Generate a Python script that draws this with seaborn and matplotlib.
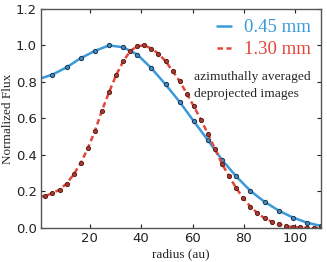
import numpy as np
import pandas as pd
import seaborn as sns
import matplotlib.pyplot as plt
from matplotlib.lines import Line2D

# radial profiles
r_045 = [0, 5.5, 11, 16.5, 22, 27.5, 33, 38.5, 44, 49.5, 55, 60.5, 66, 71.5,
         77, 82.5, 88, 93.5, 99, 104.5, 110]
f_045 = [0.815, 0.84, 0.88, 0.93, 0.97, 1.0, 0.99, 0.95, 0.875, 0.786, 0.69,
         0.584, 0.48, 0.372, 0.282, 0.203, 0.143, 0.095, 0.057, 0.029, 0.011]

r_130 = [0, 2.75, 5.5, 8.25, 11, 13.75, 16.5, 19.25, 22, 24.75, 27.5, 30.25,
         33, 35.75, 38.5, 41.25, 44, 46.75, 49.5, 52.25, 55, 57.75, 60.5,
         63.25, 66, 68.75, 71.5, 74.25, 77, 79.75, 82.5, 85.25, 88, 90.75,
         93.5, 96.25, 99, 101.75, 104.5, 107.25, 110]
f_130 = [0.17, 0.176, 0.19, 0.21, 0.243, 0.293, 0.355, 0.436, 0.53, 0.643,
         0.743, 0.837, 0.912, 0.969, 0.996, 1.0, 0.983, 0.954, 0.914, 0.859,
         0.804, 0.736, 0.666, 0.593, 0.515, 0.432, 0.35, 0.282, 0.218, 0.163,
         0.117, 0.081, 0.053, 0.035, 0.02, 0.01, 0.005, 0.003, 0.001, 0.0, 0.0]

labels = ["0.45 mm", "1.30 mm"]
blue = "#3a9ad9"
red = "#e2463a"

sns.set_style("ticks")

fig = plt.figure(figsize=(3.27, 2.62), dpi=100)
ax = fig.add_axes([0.125, 0.13, 0.857, 0.836])

df1 = pd.DataFrame({"r": r_045, "f": f_045})
df2 = pd.DataFrame({"r": r_130, "f": f_130})

sns.lineplot(data=df1, x="r", y="f", ax=ax, color=blue, lw=1.8,
             marker="o", markersize=3.0, markerfacecolor="#4a8fc0",
             markeredgecolor="#1d3f5e", markeredgewidth=0.8)
sns.lineplot(data=df2, x="r", y="f", ax=ax, color=red, lw=1.8,
             dashes=(2.2, 1.4), marker="o", markersize=3.0,
             markerfacecolor="#b0392e", markeredgecolor="#5a1f1a",
             markeredgewidth=0.7)

ax.set_xlim(1, 110)
ax.set_ylim(0, 1.2)
ax.set_xticks([20, 40, 60, 80, 100])
ax.set_yticks(np.arange(0, 1.21, 0.2))
ax.set_yticklabels([f"{v:.1f}" for v in np.arange(0, 1.21, 0.2)])
ax.tick_params(direction="in", top=True, right=True, labelsize=9.5,
               colors="#222222", length=3, width=0.8, pad=3)
for s in ax.spines.values():
    s.set_color("#555555")
    s.set_linewidth(1.0)

ax.set_xlabel("radius (au)", family="Liberation Serif", fontsize=9.5,
              labelpad=2)
ax.set_ylabel("Normalized Flux", family="Liberation Serif", fontsize=9.5,
              labelpad=1)

handles = [Line2D([], [], color=blue, lw=1.8),
           Line2D([], [], color=red, lw=1.8, dashes=(2.2, 1.4))]
leg = ax.legend(handles, labels, loc="upper right", frameon=False,
                handlelength=0.75, handletextpad=0.7, labelspacing=0.25,
                borderaxespad=0.15, prop={"family": "Liberation Serif", "size": 13.5})
for t, c in zip(leg.get_texts(), [blue, red]):
    t.set_color(c)

ax.text(0.545, 0.65, "azimuthally averaged\ndeprojected images",
        transform=ax.transAxes, family="Liberation Serif", fontsize=9.7,
        linespacing=1.55, va="center", ha="left")

fig.savefig("out.png", dpi=100)
